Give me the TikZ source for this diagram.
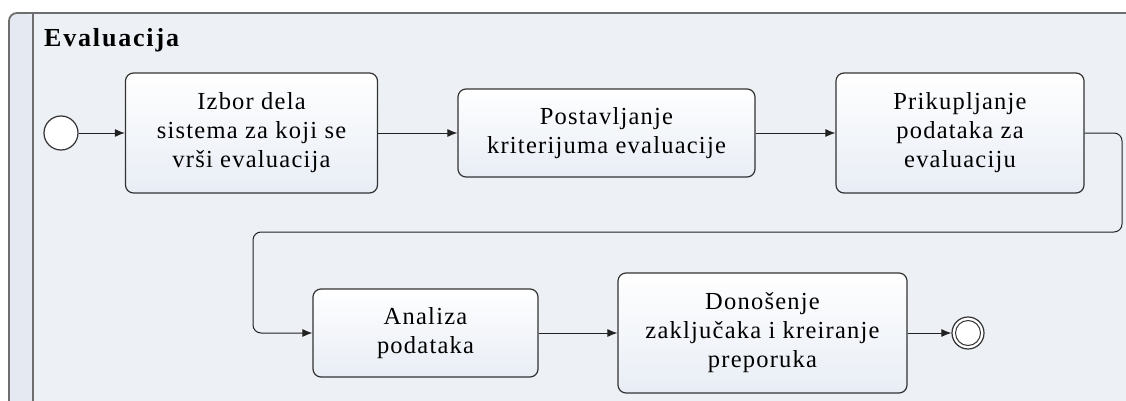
\documentclass[tikz,border=0pt]{standalone}
\usepackage{fontspec}
\setmainfont{Liberation Serif}[LetterSpace=5]
\usetikzlibrary{arrows.meta}
\definecolor{poolfill}{HTML}{EDF0F5}
\definecolor{bandfill}{HTML}{E5EAF2}
\definecolor{poolline}{HTML}{6E6E6E}
\definecolor{boxline}{HTML}{333333}
\definecolor{boxend}{HTML}{E8EDF5}
\definecolor{flowline}{HTML}{222222}
\tikzset{
  task/.style={draw=boxline, line width=1.2pt, rounded corners=8pt,
    top color=white, bottom color=boxend, align=center, inner sep=0pt,
    font=\fontsize{24.5}{29}\selectfont},
  flow/.style={draw=flowline, line width=1pt, -{Latex[length=10pt,width=8pt]}},
  event/.style={circle, draw=boxline, line width=1.2pt, fill=white, inner sep=0pt},
}
\begin{document}
\begin{tikzpicture}[x=1pt, y=-1pt]
\useasboundingbox (0,0) rectangle (1126,401);
\clip (0,0) rectangle (1126,401);

% pool with its label band
\fill[poolfill, rounded corners=8pt] (9,13) rectangle (1140,430);
\fill[bandfill, rounded corners=8pt] (9,13) rectangle (33,430);
\draw[poolline, line width=1.8pt, rounded corners=8pt]
  (9,430) -- (9,13) -- (1140,13);
\draw[poolline, line width=1.8pt] (33,13) -- (33,430);
\node[anchor=base west, inner sep=0pt,
  font=\fontsize{26}{30}\selectfont\addfontfeatures{LetterSpace=7}\bfseries]
  (title) at (44,47) {Evaluacija};

% events
\node[event, minimum size=34pt] (start) at (61,133) {};
\node[event, minimum size=32pt] (stop) at (968,333) {};
\node[circle, draw=boxline, line width=1pt, minimum size=25pt, inner sep=0pt]
  (stopin) at (stop) {};

% tasks
\node[task, minimum width=252pt, minimum height=120pt] (b1) at (251.5,133)
  {Izbor dela\\sistema za koji se\\vrši evaluacija};
\node[task, minimum width=297pt, minimum height=88pt] (b2) at (606.5,133)
  {Postavljanje\\kriterijuma evaluacije};
\node[task, minimum width=248pt, minimum height=120pt] (b3) at (960,133)
  {Prikupljanje\\podataka za\\evaluaciju};
\node[task, minimum width=225pt, minimum height=88pt] (b4) at (425.5,333)
  {Analiza\\podataka};
\node[task, minimum width=289pt, minimum height=120pt] (b5) at (762.5,333)
  {Donošenje\\zaključaka i kreiranje\\preporuka};

% sequence flows
\coordinate (turnR) at (1122,133);
\coordinate (turnL) at (253,232);
\draw[flow] (start) -- (b1);
\draw[flow] (b1) -- (b2);
\draw[flow] (b2) -- (b3);
\draw[flow, rounded corners=8pt] (b3.east) -- (turnR) |- (turnL) |- (b4.west);
\draw[flow] (b4) -- (b5);
\draw[flow] (b5) -- (stop);
\end{tikzpicture}
\end{document}
